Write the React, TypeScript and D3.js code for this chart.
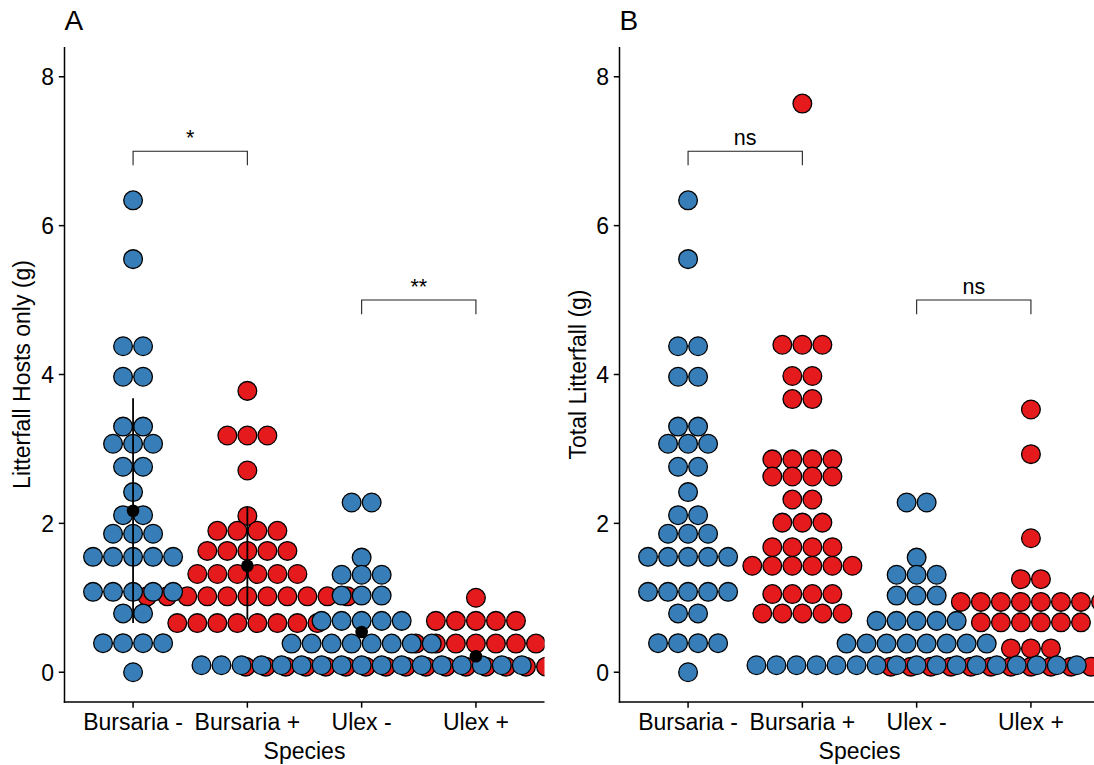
import React from 'react';
import * as d3 from 'd3';

const W = 1094;
const H = 765;
const FONT = '"Liberation Sans", Arial, sans-serif';

const species = ['Bursaria -', 'Bursaria +', 'Ulex -', 'Ulex +'];
const yTicks = [0, 2, 4, 6, 8];

// dotplot bins: bin centre (g) and how many dots are stacked in it
const bursariaMinusValues = [6.34, 5.55, 4.38, 3.97, 3.3, 3.07, 2.76, 2.42, 2.11, 1.86, 1.55, 1.08, 0.79, 0.39, 0.0];
const bursariaMinusCounts = [1, 1, 2, 2, 2, 3, 2, 1, 2, 3, 5, 5, 2, 4, 1];
const ulexMinusValues = [2.28, 1.54, 1.31, 1.03, 0.69, 0.385, 0.094];
const ulexMinusCounts = [2, 1, 3, 3, 5, 8, 17];

// panel A, hosts only
const hostsBursariaPlusValues = [3.78, 3.18, 2.71, 2.1, 1.9, 1.63, 1.32, 1.02, 0.66];
const hostsBursariaPlusCounts = [1, 3, 1, 1, 4, 5, 6, 11, 8];
const hostsUlexPlusValues = [1.0, 0.69, 0.385, 0.075];
const hostsUlexPlusCounts = [1, 5, 7, 24];

// panel B, total litterfall
const totalBursariaPlusValues = [7.64, 4.4, 3.98, 3.67, 2.86, 2.63, 2.32, 2.01, 1.68, 1.43, 1.05, 0.79];
const totalBursariaPlusCounts = [1, 3, 2, 2, 4, 4, 2, 3, 4, 6, 4, 5];
const totalUlexPlusValues = [3.53, 2.93, 1.8, 1.25, 0.945, 0.67, 0.32, 0.075];
const totalUlexPlusCounts = [1, 1, 1, 2, 8, 6, 3, 15];

// mean +/- sd shown in panel A only
const hostsMean = [2.17, 1.43, 0.54, 0.215];
const hostsLow = [0.66, 0.71, null, null];
const hostsHigh = [3.68, 2.22, null, null];

// significance brackets
const signifPairs = [[0, 1], [2, 3]];
const signifY = [7, 5];
const hostsSignif = ['*', '**'];
const totalSignif = ['ns', 'ns'];

const binwidth = 0.269;
const tipLength = 0.19;
const RED = '#E41A1C';
const BLUE = '#377EB8';

type Group = { sp: string; values: number[]; counts: number[]; fill: string };

const Panel = ({ x0, x1, tag, yTitle, yTitleX, groups, signif, summary, clipId }: any) => {
  const y = d3.scaleLinear().domain([-0.4, 8.4]).range([702, 47]);
  const x = d3.scalePoint<string>().domain(species).range([x0, x1]).padding(0.6);
  const step = y(0) - y(binwidth);
  const strokeW = 1.3;
  const r = step / 2 - strokeW / 2;

  const dots: { cx: number; cy: number; fill: string }[] = [];
  (groups as Group[]).forEach((g) => {
    g.values.forEach((v, i) => {
      const n = g.counts[i];
      for (let k = 0; k < n; k++) {
        dots.push({ cx: (x(g.sp) as number) + (k - (n - 1) / 2) * step, cy: y(v), fill: g.fill });
      }
    });
  });

  const axisY = y(-0.4);
  const midX = (x0 + x1) / 2;

  return (
    <g>
      <defs>
        <clipPath id={clipId}>
          <rect x={x0} y={y(8.4)} width={x1 - x0} height={axisY - y(8.4)} />
        </clipPath>
      </defs>
      <g clipPath={`url(#${clipId})`}>
        {dots.map((d, i) => (
          <circle key={i} cx={d.cx} cy={d.cy} r={r} fill={d.fill} stroke="#000" strokeWidth={strokeW} />
        ))}
        {summary &&
          species.map((s, i) => (
            <g key={s}>
              {summary.low[i] != null && (
                <line x1={x(s)} x2={x(s)} y1={y(summary.low[i])} y2={y(summary.high[i])} stroke="#000" strokeWidth={1.8} />
              )}
              <circle cx={x(s)} cy={y(summary.mean[i])} r={6.3} fill="#000" />
            </g>
          ))}
        {signifPairs.map((p, i) => {
          const xa = x(species[p[0]]) as number;
          const xb = x(species[p[1]]) as number;
          const yl = y(signifY[i]);
          const yt = y(signifY[i] - tipLength);
          return (
            <g key={i}>
              <path d={`M${xa},${yt}V${yl}H${xb}V${yt}`} fill="none" stroke="#222" strokeWidth={1.1} />
              <text x={(xa + xb) / 2} y={yl - 6} textAnchor="middle" fontSize={21.5} fontFamily={FONT} fill="#000">
                {signif[i]}
              </text>
            </g>
          );
        })}
      </g>

      {/* y axis */}
      <line x1={x0} x2={x0} y1={y(8.4)} y2={axisY + 0.75} stroke="#000" strokeWidth={1.5} />
      {yTicks.map((t) => (
        <g key={t}>
          <line x1={x0 - 5.7} x2={x0} y1={y(t)} y2={y(t)} stroke="#000" strokeWidth={1.5} />
          <text x={x0 - 10.5} y={y(t)} dy="0.36em" textAnchor="end" fontSize={23} fontFamily={FONT} fill="#000">
            {t}
          </text>
        </g>
      ))}
      {/* x axis */}
      <line x1={x0 - 0.75} x2={x1} y1={axisY} y2={axisY} stroke="#000" strokeWidth={1.5} />
      {species.map((s) => (
        <g key={s}>
          <line x1={x(s)} x2={x(s)} y1={axisY} y2={axisY + 5.7} stroke="#000" strokeWidth={1.5} />
          <text x={x(s)} y={730} textAnchor="middle" fontSize={23} fontFamily={FONT} fill="#000">
            {s}
          </text>
        </g>
      ))}
      <text x={midX} y={759} textAnchor="middle" fontSize={23} fontFamily={FONT} fill="#000">
        Species
      </text>
      <text
        transform={`translate(${yTitleX},${(y(8.4) + axisY) / 2}) rotate(-90)`}
        textAnchor="middle"
        fontSize={23}
        fontFamily={FONT}
        fill="#000"
      >
        {yTitle}
      </text>
      <text x={x0} y={30} fontSize={28} fontFamily={FONT} fill="#000">
        {tag}
      </text>
    </g>
  );
};

const App = () => {
  const hostsGroups: Group[] = [
    { sp: 'Bursaria +', values: hostsBursariaPlusValues, counts: hostsBursariaPlusCounts, fill: RED },
    { sp: 'Ulex +', values: hostsUlexPlusValues, counts: hostsUlexPlusCounts, fill: RED },
    { sp: 'Bursaria -', values: bursariaMinusValues, counts: bursariaMinusCounts, fill: BLUE },
    { sp: 'Ulex -', values: ulexMinusValues, counts: ulexMinusCounts, fill: BLUE },
  ];
  const totalGroups: Group[] = [
    { sp: 'Bursaria +', values: totalBursariaPlusValues, counts: totalBursariaPlusCounts, fill: RED },
    { sp: 'Ulex +', values: totalUlexPlusValues, counts: totalUlexPlusCounts, fill: RED },
    { sp: 'Bursaria -', values: bursariaMinusValues, counts: bursariaMinusCounts, fill: BLUE },
    { sp: 'Ulex -', values: ulexMinusValues, counts: ulexMinusCounts, fill: BLUE },
  ];

  return (
    <svg
      width={W}
      height={H}
      viewBox={`0 0 ${W} ${H}`}
      style={{ position: 'absolute', left: 0, top: 0, display: 'block', background: '#fff' }}
    >
      <rect width={W} height={H} fill="#fff" />
      <Panel
        x0={64.5}
        x1={544.5}
        tag="A"
        yTitle="Litterfall Hosts only (g)"
        yTitleX={30}
        groups={hostsGroups}
        signif={hostsSignif}
        summary={{ mean: hostsMean, low: hostsLow, high: hostsHigh }}
        clipId="clipA"
      />
      <Panel
        x0={619.5}
        x1={1099.5}
        tag="B"
        yTitle="Total Litterfall (g)"
        yTitleX={586}
        groups={totalGroups}
        signif={totalSignif}
        summary={null}
        clipId="clipB"
      />
    </svg>
  );
};

export default App;
